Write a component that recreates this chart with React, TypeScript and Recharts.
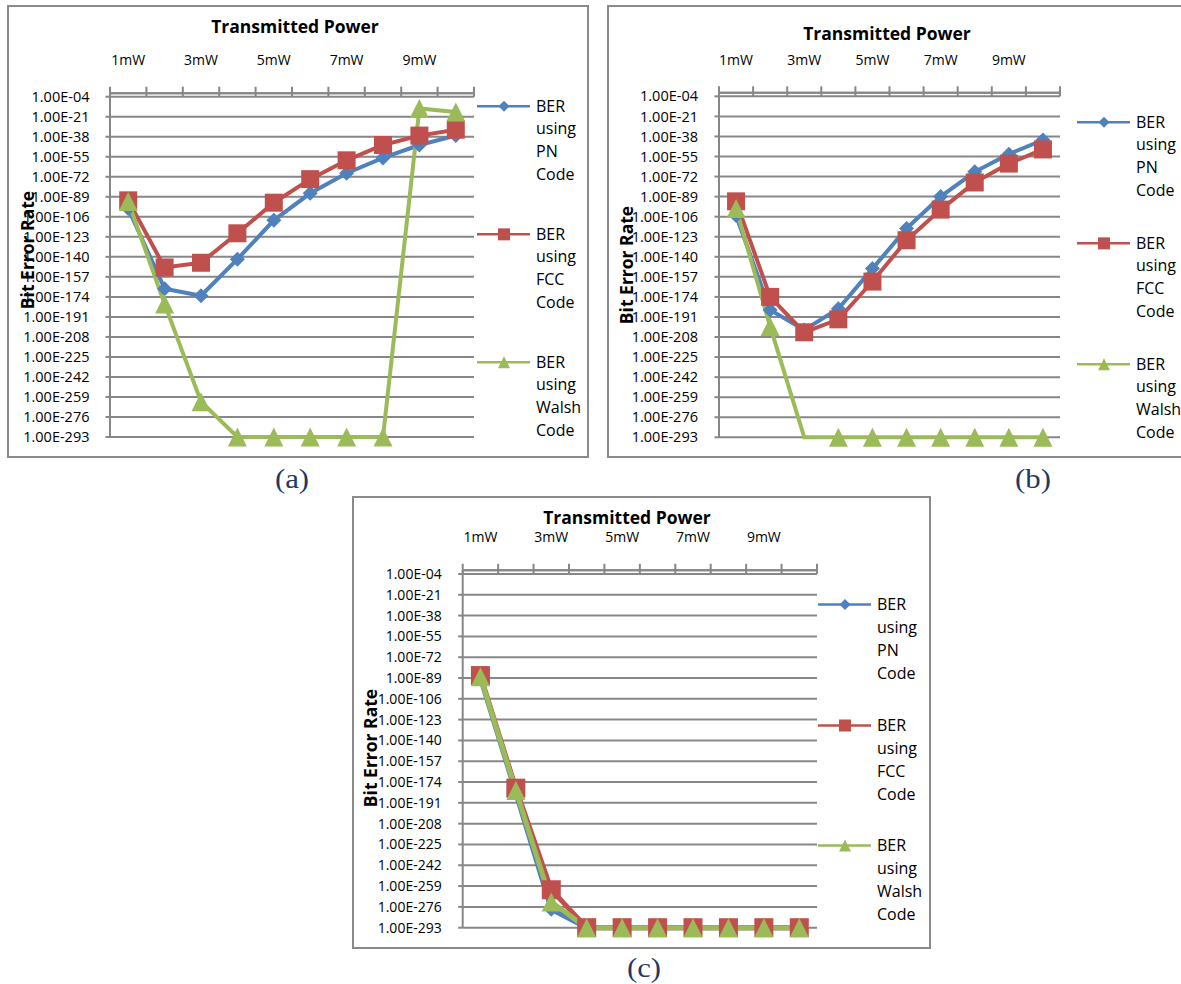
import React from 'react';
import { LineChart, Line, XAxis, YAxis, CartesianGrid, Legend, Label } from 'recharts';

// ---------- data ----------
const powerLevels = ['1mW', '2mW', '3mW', '4mW', '5mW', '6mW', '7mW', '8mW', '9mW', '10mW'];
const labeledPowers = ['1mW', '3mW', '5mW', '7mW', '9mW'];
// BER values are stored as base-10 exponents (1.00E-xx)
const berExponentTicks = [-4, -21, -38, -55, -72, -89, -106, -123, -140, -157, -174, -191, -208, -225, -242, -259, -276, -293];
const seriesNames = ['BER using PN Code', 'BER using FCC Code', 'BER using Walsh Code'];
const captions = ['(a)', '(b)', '(c)'];
const chartTitle = 'Transmitted Power';
const yTitle = 'Bit Error Rate';

const pnA = [-99, -167, -173, -142, -109, -86, -69, -56, -45, -37];
const fccA = [-92, -149, -145, -120, -94, -74, -58, -45, -37, -32];
const walshA = [-93, -180, -263, -293, -293, -293, -293, -293, -14, -17];

const pnB = [-105, -185, -202, -184, -150, -116, -89, -68, -53, -41];
const fccB = [-93, -174, -204, -193, -161, -126, -100, -77, -61, -49];
const walshB = [-99, -199, -293, -293, -293, -293, -293, -293, -293, -293];
const walshBHiddenMarkers = [2];

const pnC = [-89, -183, -278, -293, -293, -293, -293, -293, -293, -293];
const fccC = [-87, -179, -262, -293, -293, -293, -293, -293, -293, -293];
const walshC = [-88, -181, -272, -293, -293, -293, -293, -293, -293, -293];

// ---------- style ----------
const COLORS = { pn: '#4F81BD', fcc: '#C0504D', walsh: '#9BBB59' };
const SHAPES = { pn: 'diamond', fcc: 'square', walsh: 'triangle' };
const GRID = '#878787';
const BORDER = '#8a8a8a';
const FONT = '"Open Sans", sans-serif';
const CAPTION_COLOR = '#1F3864';

const formatBer = (v: number) => `1.00E-${String(Math.abs(v)).padStart(2, '0')}`;

function Marker({ shape, cx, cy, size, color }: any) {
  const h = size / 2;
  if (shape === 'diamond')
    return <polygon points={`${cx},${cy - h} ${cx + h},${cy} ${cx},${cy + h} ${cx - h},${cy}`} fill={color} />;
  if (shape === 'square') return <rect x={cx - h} y={cy - h} width={size} height={size} fill={color} />;
  return <polygon points={`${cx},${cy - h} ${cx + h},${cy + h} ${cx - h},${cy + h}`} fill={color} />;
}

const charts = [
  {
    pn: pnA, fcc: fccA, walsh: walshA, hidden: {} as Record<string, number[]>,
    box: { left: 7, top: 5, width: 582, height: 453 },
    plot: { left: 110, right: 474, top: 93.2, bottom: 437 },
    xLabelY: 60, title: { x: 295, y: 26 }, yTitle: { x: 27, y: 250 },
    legend: { left: 477, top: 94.6, rowHeight: 128, lineHeight: 22.7 },
    caption: { x: 292, y: 479 },
    tickFont: 14.5, xTickFont: 14, tickMargin: 16, strokeWidth: 4,
    sizes: { pn: 15, fcc: 18, walsh: 19 },
  },
  {
    pn: pnB, fcc: fccB, walsh: walshB, hidden: { walsh: walshBHiddenMarkers } as Record<string, number[]>,
    box: { left: 607, top: 5, width: 600, height: 453 },
    plot: { left: 719, right: 1060, top: 92.8, bottom: 437.3 },
    xLabelY: 60, title: { x: 887, y: 33 }, yTitle: { x: 626, y: 265 },
    legend: { left: 1077, top: 110.6, rowHeight: 121, lineHeight: 22.7 },
    caption: { x: 1033, y: 479 },
    tickFont: 14.5, xTickFont: 14, tickMargin: 16.5, strokeWidth: 4,
    sizes: { pn: 15, fcc: 18, walsh: 19 },
  },
  {
    pn: pnC, fcc: fccC, walsh: walshC, hidden: {} as Record<string, number[]>,
    box: { left: 352, top: 496, width: 579, height: 453 },
    plot: { left: 462.7, right: 817, top: 570.3, bottom: 927.7 },
    xLabelY: 536.7, title: { x: 627, y: 516.7 }, yTitle: { x: 370, y: 748 },
    legend: { left: 818, top: 592.8, rowHeight: 120.8, lineHeight: 23 },
    caption: { x: 644, y: 968 },
    tickFont: 14, xTickFont: 14, tickMargin: 16.5, strokeWidth: 5,
    sizes: { pn: 15, fcc: 19, walsh: 19 },
  },
];

function LegendContent({ payload, cfg }: any) {
  const { rowHeight, lineHeight } = cfg.legend;
  const items = [...(payload || [])].sort(
    (a: any, b: any) => seriesNames.indexOf(a.value) - seriesNames.indexOf(b.value)
  );
  return (
    <div style={{ fontFamily: FONT, fontSize: 16, color: '#000' }}>
      {items.map((entry: any, i: number) => {
        const key = entry.dataKey as string;
        return (
          <div key={i} style={{ height: rowHeight, display: 'flex', alignItems: 'flex-start' }}>
            <svg width={59} height={lineHeight} style={{ flex: 'none' }}>
              <line x1={0} x2={53} y1={lineHeight / 2} y2={lineHeight / 2} stroke={entry.color} strokeWidth={2.5} />
              <Marker shape={(SHAPES as any)[key]} cx={27} cy={lineHeight / 2} size={key === 'pn' ? 11 : 12} color={entry.color} />
            </svg>
            <div style={{ lineHeight: `${lineHeight}px` }}>
              {String(entry.value).split(' ').map((w, j) => (
                <div key={j}>{w}</div>
              ))}
            </div>
          </div>
        );
      })}
    </div>
  );
}

function BerChart({ cfg, idx }: any) {
  const { box, plot } = cfg;
  const rows = powerLevels.map((p, i) => ({ power: p, pos: i + 1, pn: cfg.pn[i], fcc: cfg.fcc[i], walsh: cfg.walsh[i] }));
  const xAxisHeight = 20;
  const margin = {
    top: plot.top - box.top - xAxisHeight,
    right: box.left + box.width - plot.right,
    bottom: box.top + box.height - plot.bottom,
    left: 0,
  };
  const yAxisWidth = plot.left - box.left;
  const boundaries = [...powerLevels.map((_, i) => i + 0.5), powerLevels.length + 0.5];
  const centers = labeledPowers.map((l) => powerLevels.indexOf(l) + 1);
  const xTicks = [...boundaries, ...centers].sort((a, b) => a - b);
  const labelY = cfg.xLabelY - box.top;

  const renderXTick = (p: any) => {
    const v = p.payload.value;
    if (Number.isInteger(v)) {
      return (
        <text x={p.x} y={labelY} dy="0.36em" textAnchor="middle" fontSize={cfg.xTickFont} fontFamily={FONT} fill="#000">
          {powerLevels[v - 1]}
        </text>
      );
    }
    return <line x1={p.x} x2={p.x} y1={p.y + 3.5} y2={p.y - 6.5} stroke={GRID} strokeWidth={2} />;
  };

  const makeDot = (key: string) => (p: any) => {
    const { cx, cy, index } = p;
    const hidden = cfg.hidden[key] || [];
    if (hidden.includes(index) || cx == null || cy == null) return <g key={`d-${key}-${index}`} />;
    return (
      <Marker key={`d-${key}-${index}`} shape={(SHAPES as any)[key]} cx={cx} cy={cy} size={cfg.sizes[key]} color={(COLORS as any)[key]} />
    );
  };

  const yt = { x: cfg.yTitle.x - box.left, y: cfg.yTitle.y - box.top };

  return (
    <>
      <div
        style={{
          position: 'absolute', left: box.left, top: box.top, width: box.width, height: box.height,
          border: `2px solid ${BORDER}`, boxSizing: 'border-box', background: '#fff',
        }}
      />
      <div style={{ position: 'absolute', left: box.left, top: box.top }}>
        <LineChart width={box.width} height={box.height} data={rows} margin={margin}>
          <CartesianGrid horizontal vertical={false} stroke={GRID} strokeWidth={2} />
          <XAxis
            dataKey="pos" type="number" orientation="top"
            domain={[0.5, powerLevels.length + 0.5]} ticks={xTicks} interval={0}
            tickSize={0} tickMargin={0} height={xAxisHeight}
            axisLine={{ stroke: GRID, strokeWidth: 2 }} tickLine={false} tick={renderXTick}
          />
          <YAxis
            type="number" domain={[-293, -1]} ticks={berExponentTicks} interval={0}
            width={yAxisWidth} tickSize={4.5} tickMargin={cfg.tickMargin} tickFormatter={formatBer}
            tick={{ fill: '#000', fontSize: cfg.tickFont, fontFamily: FONT }}
            axisLine={{ stroke: GRID, strokeWidth: 2 }} tickLine={{ stroke: GRID, strokeWidth: 2 }}
          >
            <Label
              content={() => (
                <text
                  x={yt.x} y={yt.y} transform={`rotate(-90 ${yt.x} ${yt.y})`} textAnchor="middle"
                  dominantBaseline="central" fontFamily={FONT} fontWeight="bold" fontSize={17.5} fill="#000"
                >
                  {yTitle}
                </text>
              )}
            />
          </YAxis>
          <Legend
            layout="vertical" align="center" verticalAlign="middle"
            wrapperStyle={{ left: cfg.legend.left - box.left, top: cfg.legend.top - box.top, width: 'auto' }}
            content={(props: any) => <LegendContent payload={props.payload} cfg={cfg} />}
          />
          {(['pn', 'fcc', 'walsh'] as const).map((key, i) => (
            <Line
              key={key} type="linear" dataKey={key} name={seriesNames[i]} stroke={COLORS[key]}
              strokeWidth={cfg.strokeWidth} dot={makeDot(key)} activeDot={false}
              legendType={SHAPES[key] as any} isAnimationActive={false}
            />
          ))}
        </LineChart>
      </div>
      <div
        style={{
          position: 'absolute', left: cfg.caption.x, top: cfg.caption.y, transform: 'translate(-50%, -50%) scaleX(1.1)',
          fontFamily: '"Liberation Serif", serif', fontSize: 28, color: CAPTION_COLOR, whiteSpace: 'nowrap', lineHeight: 1,
        }}
      >
        {captions[idx]}
      </div>
      <div
        style={{
          position: 'absolute', left: cfg.title.x, top: cfg.title.y, transform: 'translate(-50%, -50%)',
          fontFamily: FONT, fontWeight: 'bold', fontSize: 17.5, whiteSpace: 'nowrap', color: '#000',
        }}
      >
        {chartTitle}
      </div>
    </>
  );
}

export default function App() {
  return (
    <div style={{ position: 'absolute', left: 0, top: 0, width: 1181, height: 984, overflow: 'hidden', background: '#fff' }}>
      {charts.map((cfg, i) => (
        <BerChart key={i} cfg={cfg} idx={i} />
      ))}
    </div>
  );
}
